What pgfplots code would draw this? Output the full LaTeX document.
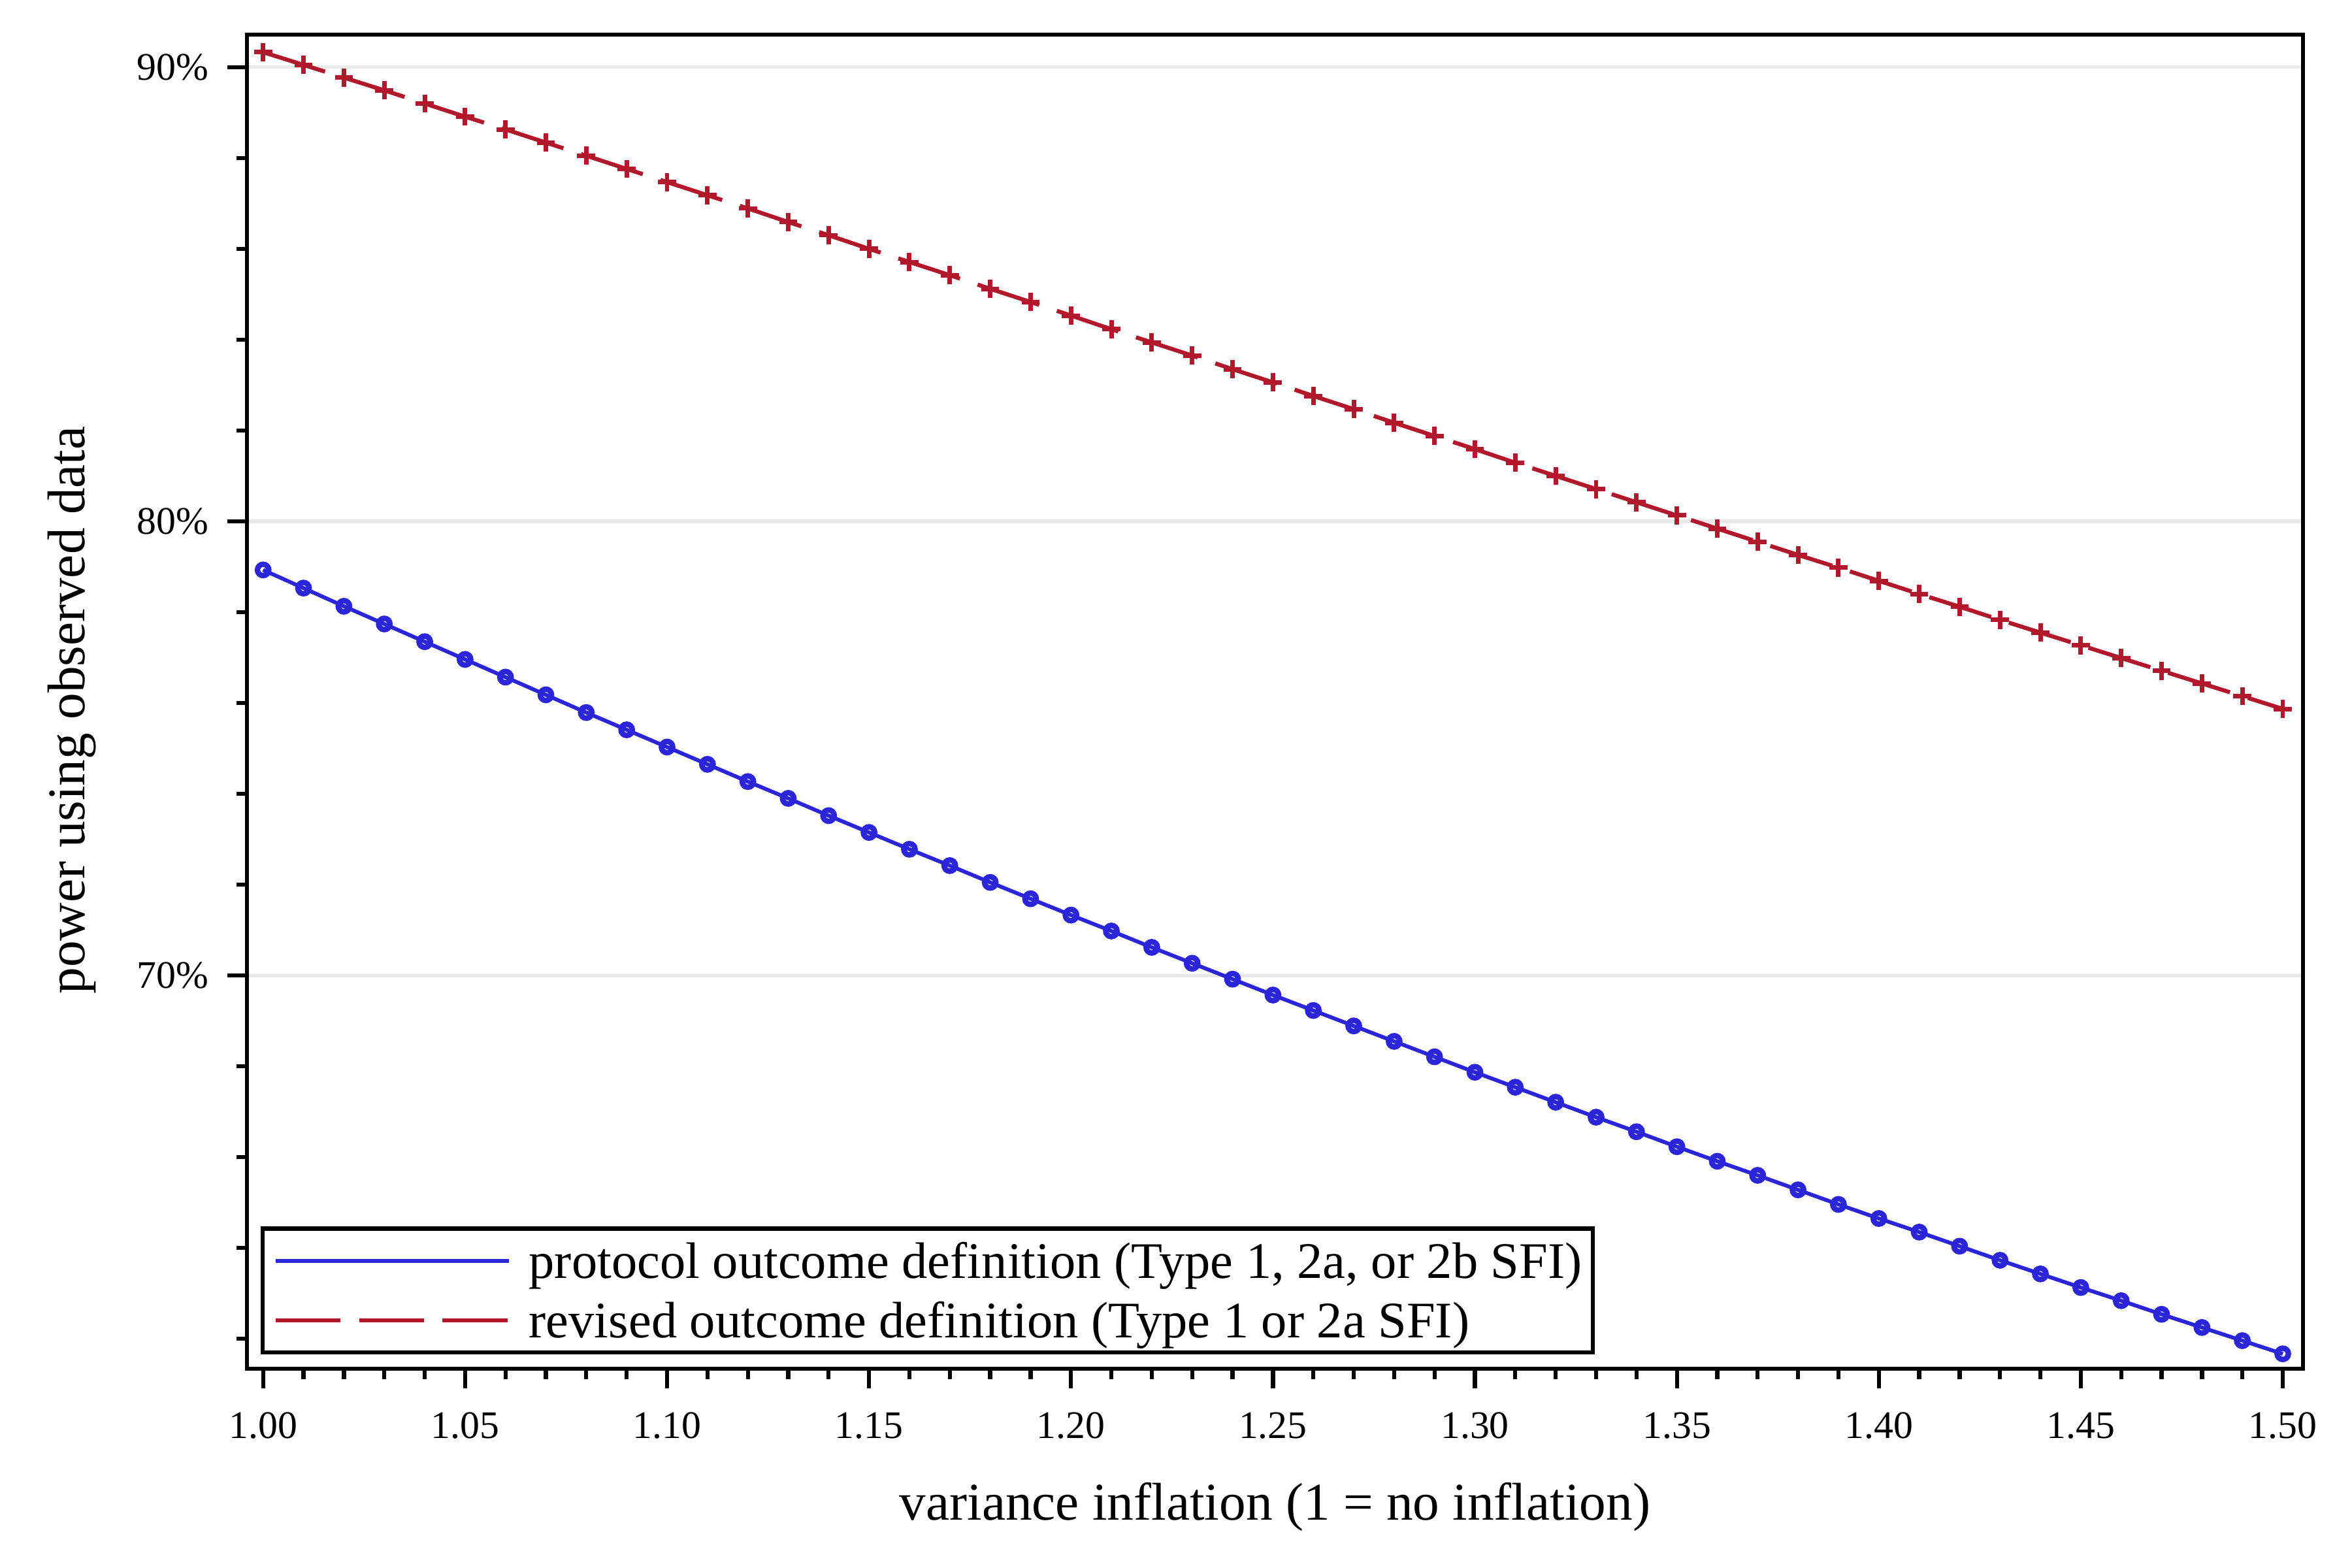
\documentclass[border=0pt]{standalone}
\usepackage{fontspec}
\setmainfont{Liberation Serif}
\usepackage{pgfplots}
\pgfplotsset{compat=1.18}
\definecolor{cblue}{HTML}{2A25D9}
\definecolor{cred}{HTML}{B2182B}
\definecolor{cgrid}{RGB}{233,233,233}
\begin{document}
\begin{tikzpicture}
\begin{axis}[
  scale only axis,
  width=453.2pt, height=294.1pt,
  xmin=0.99596, xmax=1.50501,
  ymin=61.34, ymax=90.72,
  axis line style={line width=0.9pt, black},
  every tick/.style={black, line width=0.9pt},
  major tick length=4.3pt, minor tick length=2.3pt,
  tick align=outside,
  xtick pos=bottom, ytick pos=left,
  xtick={1.00,1.05,1.10,1.15,1.20,1.25,1.30,1.35,1.40,1.45,1.50},
  minor x tick num=4,
  ytick={70,80,90},
  minor ytick={62,64,66,68,72,74,76,78,82,84,86,88},
  x tick label style={/pgf/number format/fixed, /pgf/number format/fixed zerofill, /pgf/number format/precision=2},
  yticklabel={\pgfmathprintnumber{\tick}\%},
  /pgf/number format/assume math mode=true,
  tick label style={font=\fontsize{8.6}{10}\selectfont, inner sep=0pt},
  xticklabel shift=5.1pt,
  yticklabel shift=3.9pt,
  ymajorgrids,
  major grid style={cgrid, line width=0.75pt},
  xlabel={variance inflation (1 = no inflation)},
  ylabel={power using observed data},
  label style={font=\fontsize{11.7}{14}\selectfont},
  xlabel style={at={(axis description cs:0.5,-0.1132)}, anchor=base},
  ylabel style={at={(axis description cs:-0.0788,0.4936)}, anchor=base},
  legend style={at={(axis description cs:0,0)}, anchor=south west, xshift=3.5pt, yshift=3.6pt,
    draw=black, line width=0.9pt, fill=white, inner xsep=2.4pt, inner ysep=3.2pt, outer sep=0pt,
    row sep=5.3pt, column sep=4pt, font=\fontsize{11.3}{13}\selectfont,
    nodes={inner sep=0pt, text height=7.8pt, text depth=0pt},
    cells={anchor=west}},
  legend image code/.code={\draw[#1] (0pt,0pt) -- (51.4pt,0pt);},
]
\addplot[cblue, line width=0.85pt, mark=o, mark size=1.25pt, mark options={line width=1.2pt, solid}] coordinates {
(1.00,78.93) (1.01,78.53) (1.02,78.13) (1.03,77.74) (1.04,77.35) (1.05,76.96) (1.06,76.57) (1.07,76.18) (1.08,75.79) (1.09,75.41) (1.10,75.03) (1.11,74.65) (1.12,74.27) (1.13,73.90) (1.14,73.52) (1.15,73.15) (1.16,72.78) (1.17,72.42) (1.18,72.05) (1.19,71.69) (1.20,71.33) (1.21,70.98) (1.22,70.62) (1.23,70.27) (1.24,69.92) (1.25,69.57) (1.26,69.23) (1.27,68.89) (1.28,68.55) (1.29,68.21) (1.30,67.87) (1.31,67.54) (1.32,67.21) (1.33,66.88) (1.34,66.56) (1.35,66.23) (1.36,65.91) (1.37,65.60) (1.38,65.28) (1.39,64.96) (1.40,64.65) (1.41,64.35) (1.42,64.04) (1.43,63.73) (1.44,63.43) (1.45,63.13) (1.46,62.84) (1.47,62.54) (1.48,62.25) (1.49,61.96) (1.50,61.67)
};
\addlegendentry{protocol outcome definition (Type 1, 2a, or 2b SFI)}
\addplot[cred, line width=0.9pt, dash pattern=on 14.3pt off 4.1pt, mark=+, mark size=2pt, mark options={line width=1pt, solid}] coordinates {
(1.00,90.33) (1.01,90.05) (1.02,89.77) (1.03,89.49) (1.04,89.20) (1.05,88.91) (1.06,88.63) (1.07,88.34) (1.08,88.05) (1.09,87.76) (1.10,87.47) (1.11,87.18) (1.12,86.89) (1.13,86.59) (1.14,86.30) (1.15,86.00) (1.16,85.71) (1.17,85.42) (1.18,85.12) (1.19,84.83) (1.20,84.53) (1.21,84.23) (1.22,83.94) (1.23,83.65) (1.24,83.35) (1.25,83.06) (1.26,82.76) (1.27,82.47) (1.28,82.17) (1.29,81.88) (1.30,81.59) (1.31,81.29) (1.32,81.00) (1.33,80.71) (1.34,80.42) (1.35,80.13) (1.36,79.84) (1.37,79.55) (1.38,79.26) (1.39,78.98) (1.40,78.69) (1.41,78.40) (1.42,78.12) (1.43,77.83) (1.44,77.55) (1.45,77.27) (1.46,76.99) (1.47,76.71) (1.48,76.43) (1.49,76.15) (1.50,75.87)
};
\addlegendentry{revised outcome definition (Type 1 or 2a SFI)}
\coordinate (bl) at (rel axis cs:0,0);
\coordinate (tr) at (rel axis cs:1,1);
\end{axis}
\pgfresetboundingbox
\path[use as bounding box] (bl) ++(-54.4pt,-43.9pt) rectangle ([shift={(10.8pt,7.6pt)}]tr);
\end{tikzpicture}
\end{document}
